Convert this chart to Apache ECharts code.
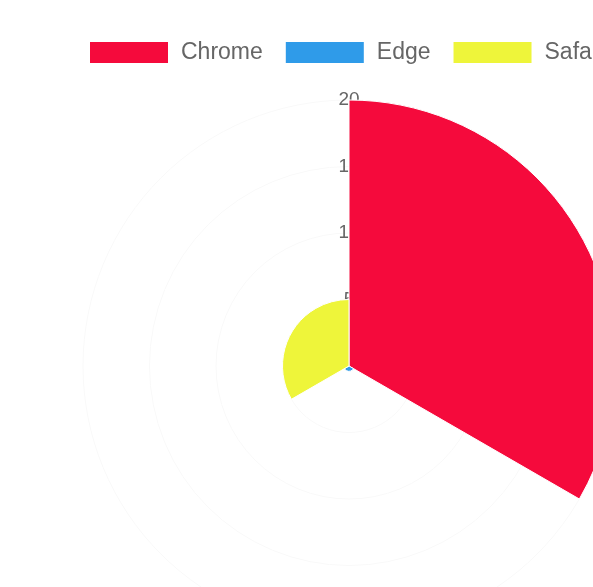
<!DOCTYPE html>
<html>
<head>
<meta charset="utf-8">
<script src="https://cdn.jsdelivr.net/npm/echarts@6/dist/echarts.min.js"></script>
<style>html,body{margin:0;padding:0;background:#fff}#c{width:593px;height:587px}</style>
</head>
<body>
<div id="c"></div>
<script>
const categories = ['Chrome', 'Edge', 'Safari'];
const values = [20, 0.4, 5];
const colors = ['#f50a3c', '#2f9be9', '#eef53a'];
const radiusTicks = [0, 5, 10, 15, 20];

const chart = echarts.init(document.getElementById('c'), null, {renderer: 'canvas'});
const series = categories.map((name, i) => ({
  name: name,
  type: 'bar',
  coordinateSystem: 'polar',
  data: categories.map((c, j) => (j === i ? values[i] : '-')),
  barGap: '-100%',
  barCategoryGap: '0%',
  itemStyle: {color: colors[i], borderColor: '#fff', borderWidth: 1},
  z: 5
}));

chart.setOption({
  animation: false,
  legend: {
    data: categories,
    left: 88,
    top: 40,
    width: 800,
    padding: 0,
    itemWidth: 80,
    itemHeight: 23,
    itemGap: 21,
    icon: 'rect',
    textStyle: {color: '#666', fontSize: 23, lineHeight: 23, fontFamily: 'Liberation Sans, Arial, sans-serif', padding: [0, 0, 0, 7]}
  },
  polar: {center: [349, 366], radius: 266},
  angleAxis: {
    type: 'category',
    data: categories,
    startAngle: 90,
    clockwise: true,
    axisLine: {show: false},
    axisTick: {show: false},
    axisLabel: {show: false},
    splitLine: {show: false}
  },
  radiusAxis: {
    type: 'value',
    min: radiusTicks[0],
    max: radiusTicks[radiusTicks.length - 1],
    interval: 5,
    z: 1,
    axisLine: {show: false},
    axisTick: {show: false},
    axisLabel: {
      color: '#666',
      fontSize: 19,
      fontFamily: 'Liberation Sans, Arial, sans-serif',
      margin: 0,
      align: 'center',
      verticalAlign: 'middle',
      formatter: v => (v === 0 ? '' : String(v))
    },
    splitLine: {show: true, lineStyle: {color: '#f9f9f9', width: 1}}
  },
  series: series
});
</script>
</body>
</html>
